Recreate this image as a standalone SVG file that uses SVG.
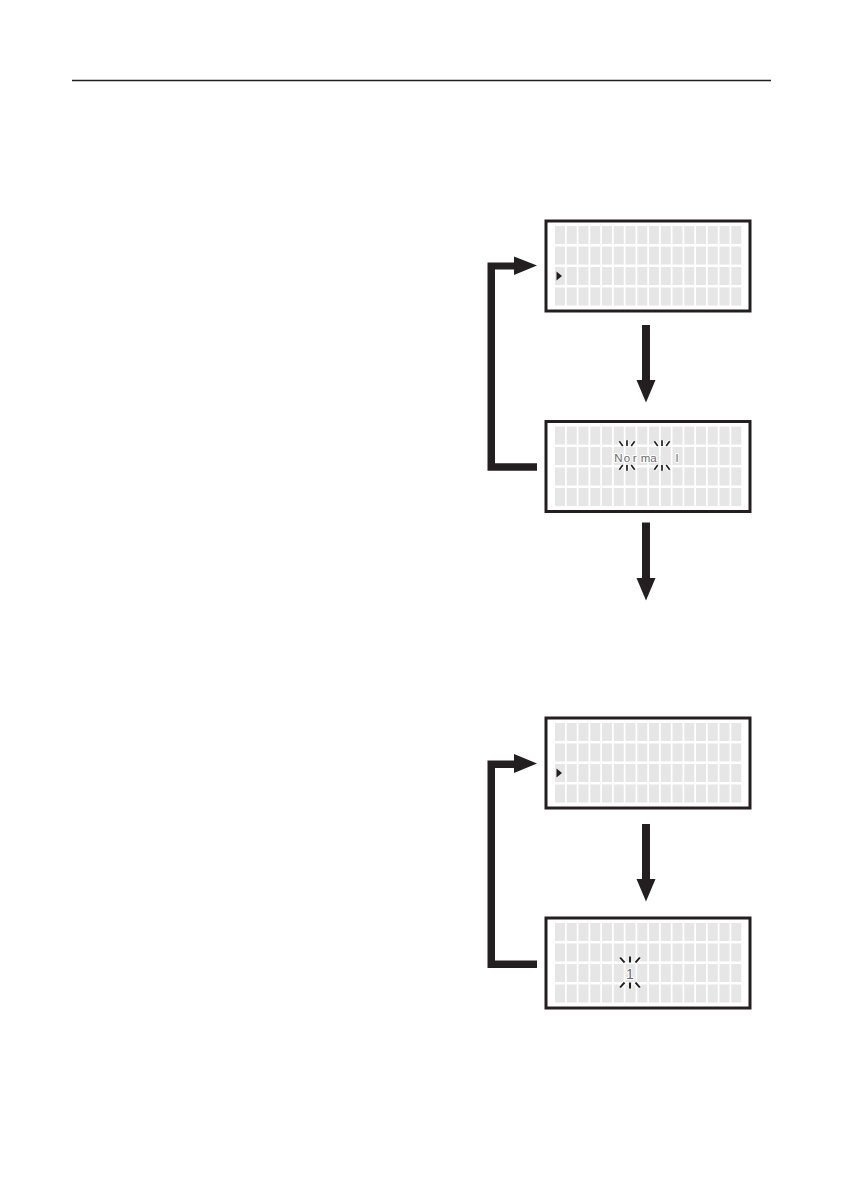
<svg xmlns="http://www.w3.org/2000/svg" xmlns:xlink="http://www.w3.org/1999/xlink" width="843" height="1192" viewBox="0 0 843 1192">
<style>
.frame{fill:#ffffff;stroke:#231f20;stroke-width:3}
.cell{fill:#e6e6e6}
.ink{fill:#231f20}
.lcdtxt{font-family:"Liberation Sans",Arial,sans-serif;fill:#6a6a6a;stroke:#ffffff;stroke-width:2;paint-order:stroke;stroke-linejoin:round}
.spk{stroke:#231f20;stroke-width:2;fill:none;stroke-linecap:butt}
.spkbg{stroke:#ffffff;stroke-width:4;fill:none}
</style>
<defs>
<g id="cells">
<rect class="cell" x="555" y="0" width="10" height="18"/><rect class="cell" x="566.75" y="0" width="10" height="18"/><rect class="cell" x="578.5" y="0" width="10" height="18"/><rect class="cell" x="590.25" y="0" width="10" height="18"/><rect class="cell" x="602" y="0" width="10" height="18"/><rect class="cell" x="613.75" y="0" width="10" height="18"/><rect class="cell" x="625.5" y="0" width="10" height="18"/><rect class="cell" x="637.25" y="0" width="10" height="18"/><rect class="cell" x="649" y="0" width="10" height="18"/><rect class="cell" x="660.75" y="0" width="10" height="18"/><rect class="cell" x="672.5" y="0" width="10" height="18"/><rect class="cell" x="684.25" y="0" width="10" height="18"/><rect class="cell" x="696" y="0" width="10" height="18"/><rect class="cell" x="707.75" y="0" width="10" height="18"/><rect class="cell" x="719.5" y="0" width="10" height="18"/><rect class="cell" x="731.25" y="0" width="10" height="18"/>
</g>
<g id="lcd">
<rect class="frame" x="546" y="0" width="204" height="90"/>
<use xlink:href="#cells" y="5"/>
<use xlink:href="#cells" y="25.5"/>
<use xlink:href="#cells" y="46"/>
<use xlink:href="#cells" y="66.5"/>
</g>
<path id="cursor" class="ink" d="M556.5,-4.5 L562,0 L556.5,4.5 Z"/>
<g id="sparkle">
<path class="spkbg" d="M-9,-15 L-5,-10 M0,-16 L0,-10 M9,-15 L5,-10 M-9,15 L-5,10 M0,16 L0,10 M9,15 L5,10"/>
<path class="spk" d="M-9,-15 L-5,-10 M0,-16 L0,-10 M9,-15 L5,-10 M-9,15 L-5,10 M0,16 L0,10 M9,15 L5,10"/>
</g>
</defs>

<line x1="72" y1="80.5" x2="771" y2="80.5" stroke="#231f20" stroke-width="1.3"/>

<g id="screen1">
<use xlink:href="#lcd" y="221"/>
<use xlink:href="#cursor" y="276"/>
</g>

<g id="screen2">
<use xlink:href="#lcd" y="421.5"/>
<use xlink:href="#sparkle" transform="translate(627,455.5) scale(0.85,0.95)"/>
<use xlink:href="#sparkle" transform="translate(662,455.5) scale(0.85,0.95)"/>
<text class="lcdtxt" font-size="11.5" x="614.3 623.8 632.8 640.8 650.2 675.8" y="461.5">Normal</text>
</g>

<g id="screen3">
<use xlink:href="#lcd" y="718"/>
<use xlink:href="#cursor" y="773"/>
</g>

<g id="screen4">
<use xlink:href="#lcd" y="918"/>
<use xlink:href="#sparkle" transform="translate(630,972.5) scale(1.1,1.0)"/>
<text class="lcdtxt" font-size="14" x="630" y="978.5" text-anchor="middle">1</text>
</g>

<g id="connectors" class="ink">
<polygon points="642,325 650,325 650,380 655.5,380 646,402.5 636.5,380 642,380"/>
<polygon points="642,522.5 650,522.5 650,578 655.5,578 646,600.5 636.5,578 642,578"/>
<polygon points="642,824 650,824 650,879 655.5,879 646,901.5 636.5,879 642,879"/>
<polygon points="487.5,262.5 514,262.5 514,256.5 537,265.5 514,275 514,269.5 495,269.5 495,463.2 537,463.2 537,470.8 487.5,470.8"/>
<polygon points="487.5,760.5 514,760.5 514,754 537,763.5 514,773 514,768 495,768 495,960.5 537,960.5 537,968 487.5,968"/>
</g>
</svg>
